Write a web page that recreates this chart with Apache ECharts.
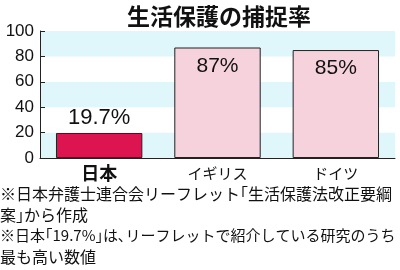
<!DOCTYPE html>
<html><head><meta charset="utf-8">
<script src="https://cdn.jsdelivr.net/npm/echarts@6/dist/echarts.min.js"></script>
<style>html,body{margin:0;padding:0;background:#fff}#c{width:400px;height:270px}</style>
</head><body><div id="c"></div>
<script>
const titleText = "生活保護の捕捉率";
const categories = ["日本", "イギリス", "ドイツ"];
const values = [19.7, 87, 85];
const valueLabels = ["19.7%", "87%", "85%"];
const yTicks = [0, 20, 40, 60, 80, 100];
const notes = [
  "※日本弁護士連合会リーフレット｢生活保護法改正要綱",
  "案｣から作成",
  "※日本｢19.7%｣は､リーフレットで紹介している研究のうち",
  "最も高い数値"
];
const font = '"Noto Sans CJK JP", sans-serif';
const chart = echarts.init(document.getElementById('c'), null, {renderer: 'canvas'});
chart.setOption({
  animation: false,
  title: {text: titleText, left: 214, top: 0, textAlign: 'center',
    textStyle: {fontFamily: font, fontSize: 23, fontWeight: 'bold', color: '#111'}},
  grid: {left: 40, right: 5, top: 31, bottom: 112},
  xAxis: {type: 'category', data: categories,
    axisLine: {lineStyle: {color: '#222', width: 1}},
    axisTick: {inside: true, length: 4, lineStyle: {color: '#222'}},
    axisLabel: {margin: 4, fontFamily: font, color: '#111',
      formatter: v => v === '日本' ? '{b|' + v + '}' : '{n|' + v + '}',
      rich: {b: {fontSize: 18, fontWeight: 'bold', fontFamily: font, color: '#111', lineHeight: 22},
             n: {fontSize: 15, fontFamily: font, color: '#111', lineHeight: 22}}}},
  yAxis: {type: 'value', min: yTicks[0], max: yTicks[yTicks.length - 1], interval: 20,
    axisLine: {show: true, lineStyle: {color: '#222'}},
    axisTick: {show: true, inside: true, length: 5, lineStyle: {color: '#222'}},
    axisLabel: {margin: 6, fontFamily: 'Liberation Sans, Arial', fontSize: 17, color: '#111'},
    splitLine: {show: false},
    splitArea: {show: true, areaStyle: {color: ['#dff6fb', '#ffffff']}}},
  series: [{type: 'bar', barWidth: '73%',
    data: values.map((v, i) => ({
      value: v,
      itemStyle: {color: i === 0 ? '#dc1450' : '#f6d2dc', borderColor: '#222', borderWidth: 1},
      label: {show: true, position: i === 0 ? 'top' : 'insideTop', distance: i === 0 ? 4 : 8,
        formatter: valueLabels[i], fontFamily: 'Liberation Sans, Arial',
        fontSize: i === 0 ? 22 : 21, color: '#111'}
    }))}],
  graphic: notes.map((t, i) => ({type: 'text', left: 0, top: 186 + i * 21,
    style: {text: t, font: (i === 2 ? '15px ' : '16px ') + font, fill: '#111'}}))
});
</script></body></html>
